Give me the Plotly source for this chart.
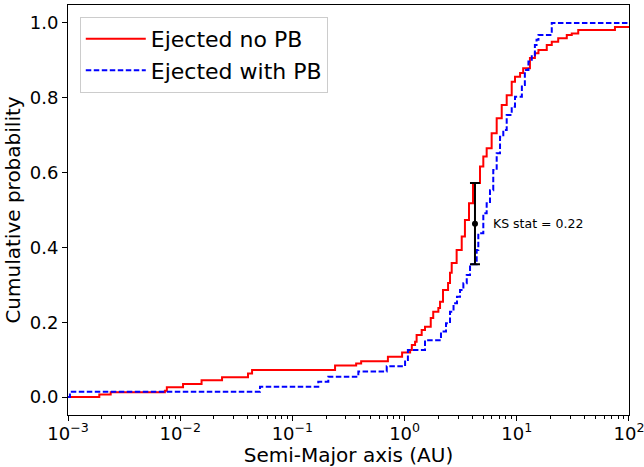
import numpy as np
import plotly.graph_objects as go

# ── Data (cumulative distributions, step form) ──────────────────────────────
red_x = [0.001, 0.0019, 0.0024, 0.0073, 0.0076, 0.0106, 0.0155, 0.0236, 0.0402, 0.0437,
         0.24, 0.37, 0.41, 0.71, 0.95, 1.12, 1.16, 1.24, 1.28, 1.42,
         1.52, 1.71, 1.80, 2.00, 2.07, 2.20, 2.44, 2.54, 2.63, 2.91,
         3.23, 3.45, 3.75, 4.07, 4.70, 5.03, 5.39, 5.97, 6.62, 7.34,
         8.13, 9.01, 9.64, 10.7, 11.4, 13.1, 14.5, 15.6, 18.5, 20.5,
         23.4, 27.9, 30.9, 35.3, 75.0, 100.0]
red_y = [0.0, 0.007, 0.013, 0.017, 0.026, 0.035, 0.045, 0.053, 0.063, 0.072,
         0.084, 0.090, 0.096, 0.108, 0.119, 0.126, 0.139, 0.148, 0.166, 0.179,
         0.188, 0.211, 0.228, 0.238, 0.255, 0.286, 0.305, 0.332, 0.358, 0.393,
         0.429, 0.473, 0.518, 0.572, 0.616, 0.643, 0.665, 0.705, 0.745, 0.781,
         0.807, 0.843, 0.856, 0.866, 0.879, 0.906, 0.919, 0.928, 0.941, 0.950,
         0.959, 0.968, 0.972, 0.981, 0.989, 0.989]

blue_x = [0.001, 0.00104, 0.0514, 0.170, 0.209, 0.387, 0.693, 1.01, 1.07, 1.52,
          2.11, 2.34, 2.54, 2.73, 2.93, 3.12, 3.34, 3.58, 3.83, 4.39,
          4.54, 5.03, 5.39, 5.77, 6.17, 6.62, 7.09, 7.58, 8.13, 9.01,
          9.64, 11.1, 11.8, 12.7, 13.6, 14.5, 15.0, 15.6, 20.5, 100.0]
blue_y = [0.0, 0.014, 0.0275, 0.041, 0.054, 0.068, 0.082, 0.099, 0.126, 0.152,
          0.175, 0.197, 0.228, 0.251, 0.268, 0.286, 0.304, 0.326, 0.355, 0.393,
          0.438, 0.491, 0.518, 0.553, 0.607, 0.652, 0.696, 0.714, 0.754, 0.776,
          0.803, 0.834, 0.874, 0.897, 0.914, 0.941, 0.955, 0.968, 1.0, 1.0]

# KS statistic marker
ks_x = 4.24
ks_lo = 0.355
ks_hi = 0.572

x_tickvals = [1e-3, 1e-2, 1e-1, 1e0, 1e1, 1e2]
x_ticktext = ["10<sup>\u22123</sup>", "10<sup>\u22122</sup>", "10<sup>\u22121</sup>",
              "10<sup>0</sup>", "10<sup>1</sup>", "10<sup>2</sup>"]
y_tickvals = [0.0, 0.2, 0.4, 0.6, 0.8, 1.0]
y_ticktext = [f"{v:.1f}" for v in y_tickvals]

FONT = "DejaVu Sans"

fig = go.Figure()

fig.add_trace(go.Scatter(
    x=red_x, y=red_y, mode="lines", line_shape="hv",
    line=dict(color="#ff0000", width=2),
    name="Ejected no PB",
))
fig.add_trace(go.Scatter(
    x=blue_x, y=blue_y, mode="lines", line_shape="hv",
    line=dict(color="#0000ff", width=2, dash="5.5px,2.5px"),
    name="Ejected with PB",
))

# ── KS error bar ─────────────────────────────────────────────────────────────
ks_mid = (ks_lo + ks_hi) / 2
ks_half = (ks_hi - ks_lo) / 2
fig.add_trace(go.Scatter(
    x=[ks_x], y=[ks_mid], mode="markers",
    marker=dict(color="black", size=6),
    error_y=dict(type="data", array=[ks_half], color="black", thickness=2, width=5),
    showlegend=False,
))
fig.add_annotation(
    x=np.log10(ks_x), y=ks_mid, xref="x", yref="y",
    text=f"KS stat = {ks_hi - ks_lo:.2f}", showarrow=False,
    xanchor="left", yanchor="middle", xshift=16,
    font=dict(family=FONT, size=12.5, color="black"),
)

# ── Layout ───────────────────────────────────────────────────────────────────
fig.update_layout(
    width=644, height=467,
    paper_bgcolor="white", plot_bgcolor="white",
    font=dict(family=FONT, color="black", size=16.5),
    margin=dict(l=68, r=15, t=5, b=52, autoexpand=False),
    legend=dict(
        x=0.021, y=0.971, xanchor="left", yanchor="top",
        bgcolor="rgba(255,255,255,0.8)", bordercolor="#cccccc", borderwidth=1,
        font=dict(family=FONT, size=22), itemwidth=60,
    ),
)
fig.update_xaxes(
    type="log", range=[-3.0002, 2.0002], automargin=False,
    tickvals=x_tickvals, ticktext=x_ticktext,
    tickfont=dict(size=18), ticklabeloverflow="allow", ticklabelstandoff=-3,
    ticks="outside", ticklen=5, tickwidth=1, tickcolor="black",
    minor=dict(ticks="outside", ticklen=3, tickcolor="black", dtick="D1", showgrid=False),
    showline=True, linecolor="black", linewidth=1, mirror=True,
    showgrid=False, zeroline=False,
    title=dict(text="Semi-Major axis (AU)", standoff=4),
)
fig.update_yaxes(
    range=[-0.048, 1.048], automargin=False,
    tickvals=y_tickvals, ticktext=y_ticktext,
    tickfont=dict(size=18),
    ticks="outside", ticklen=5, tickwidth=1, tickcolor="black",
    showline=True, linecolor="black", linewidth=1, mirror=True,
    showgrid=False, zeroline=False,
    title=dict(text="Cumulative probability", standoff=3),
)

fig.write_html("out.html", config={"displayModeBar": False},
               post_script="document.body.style.margin='0';")
